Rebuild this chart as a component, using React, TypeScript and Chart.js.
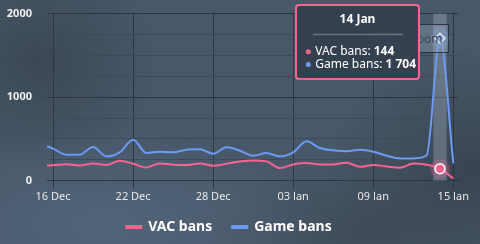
import React, { useEffect, useRef } from 'react';
import { Chart, registerables } from 'chart.js';

Chart.register(...registerables);

// ---- data ----
const dates = [
  '15 Dec', '16 Dec', '17 Dec', '18 Dec', '19 Dec', '20 Dec', '21 Dec', '22 Dec',
  '23 Dec', '24 Dec', '25 Dec', '26 Dec', '27 Dec', '28 Dec', '29 Dec', '30 Dec',
  '31 Dec', '01 Jan', '02 Jan', '03 Jan', '04 Jan', '05 Jan', '06 Jan', '07 Jan',
  '08 Jan', '09 Jan', '10 Jan', '11 Jan', '12 Jan', '13 Jan', '14 Jan', '15 Jan',
];
const vacBans = [
  178, 186, 198, 184, 206, 188, 240, 204, 160, 208, 192, 188, 208, 180, 204, 232,
  244, 232, 152, 196, 212, 196, 196, 216, 168, 188, 172, 156, 208, 192, 144, 28,
];
const gameBans = [
  440, 385, 312, 312, 405, 292, 340, 492, 332, 348, 340, 372, 376, 324, 400, 360,
  300, 332, 292, 340, 472, 392, 364, 352, 370, 348, 300, 268, 268, 305, 1704, 208,
];
const seriesNames = ['VAC bans', 'Game bans'];
const xTickIndexes = [1, 7, 13, 19, 25, 31];
const yMajorStep = 1000;
const yMinorStep = 250;
const hoverIndex = 30;
const resetLabel = 'Reset zoom';

// ---- styles ----
const PINK = '#f7648f';
const BLUE = '#6b9bf2';
const GRID_MAJOR = '#2b3642';
const GRID_MINOR = '#3d4a59';
const FONT = "'Noto Sans', 'Open Sans', sans-serif";

const fmt = (v: number) => String(v).replace(/\B(?=(\d{3})+(?!\d))/g, ' ');

function rgba(hex: string, a: number) {
  const n = parseInt(hex.slice(1), 16);
  return `rgba(${(n >> 16) & 255},${(n >> 8) & 255},${n & 255},${a})`;
}

const overlayPlugin = {
  id: 'overlay',
  beforeDatasetsDraw(chart: any) {
    const { ctx, chartArea, scales } = chart;
    const x = scales.x;
    const px = x.getPixelForValue(hoverIndex);
    const w = x.getPixelForValue(hoverIndex + 0.5) - x.getPixelForValue(hoverIndex - 0.5);
    ctx.save();
    ctx.fillStyle = 'rgba(205,215,230,0.26)';
    ctx.fillRect(px - w / 2, chartArea.top, w, chartArea.bottom - chartArea.top);
    chart.data.datasets.forEach((ds: any, i: number) => {
      const el = chart.getDatasetMeta(i).data[hoverIndex];
      ctx.beginPath();
      ctx.arc(el.x, el.y, 10, 0, Math.PI * 2);
      ctx.fillStyle = rgba(ds.borderColor, 0.25);
      ctx.fill();
    });
    ctx.restore();
  },
  afterDatasetsDraw(chart: any) {
    const { ctx, chartArea, scales } = chart;
    ctx.save();
    // reset zoom button
    const bw = 79, bh = 29;
    const rx = chartArea.right - 9 - bw;
    const ry = chartArea.top + 10.5;
    ctx.fillStyle = 'rgba(160,175,190,0.32)';
    ctx.fillRect(rx, ry, bw, bh);
    ctx.strokeStyle = '#2a3440';
    ctx.lineWidth = 1;
    ctx.strokeRect(rx + 0.5, ry + 0.5, bw - 1, bh - 1);
    ctx.fillStyle = '#3a4655';
    ctx.font = `12px ${FONT}`;
    ctx.textBaseline = 'middle';
    ctx.textAlign = 'left';
    ctx.fillText(resetLabel, rx + 7, ry + bh / 2 + 1);

    // tooltip
    const px = scales.x.getPixelForValue(hoverIndex);
    const tw = 123, th = 74;
    const tx = px - 21 - tw;
    const ty = chartArea.top - 8.5;
    ctx.beginPath();
    ctx.roundRect(tx, ty, tw, th, 3);
    ctx.fillStyle = 'rgba(52,63,77,0.96)';
    ctx.fill();
    ctx.strokeStyle = PINK;
    ctx.lineWidth = 2;
    ctx.stroke();

    ctx.fillStyle = '#ffffff';
    ctx.font = `bold 12px ${FONT}`;
    ctx.textAlign = 'center';
    ctx.fillText(dates[hoverIndex], tx + tw / 2, ty + 15);

    ctx.beginPath();
    ctx.moveTo(tx + 17, ty + 29.5);
    ctx.lineTo(tx + 107, ty + 29.5);
    ctx.strokeStyle = '#66737f';
    ctx.lineWidth = 1.5;
    ctx.stroke();

    const rows: [string, number, string][] = [
      [seriesNames[0], vacBans[hoverIndex], PINK],
      [seriesNames[1], gameBans[hoverIndex], BLUE],
    ];
    ctx.textAlign = 'left';
    rows.forEach(([name, val, color], r) => {
      const cy = ty + 46.7 + r * 12.7;
      ctx.beginPath();
      ctx.arc(tx + 12.3, cy, 2.5, 0, Math.PI * 2);
      ctx.fillStyle = color;
      ctx.fill();
      ctx.fillStyle = '#ffffff';
      ctx.font = `12px ${FONT}`;
      const label = name + ': ';
      ctx.fillText(label, tx + 19.3, cy);
      const w1 = ctx.measureText(label).width;
      ctx.font = `bold 12px ${FONT}`;
      ctx.fillText(fmt(val), tx + 19.3 + w1, cy);
    });
    ctx.restore();
  },
};

export default function App() {
  const canvasRef = useRef<HTMLCanvasElement | null>(null);

  useEffect(() => {
    const canvas = canvasRef.current;
    if (!canvas) return;
    const pointR = (ctx: any) => (ctx.dataIndex === hoverIndex ? 5 : 0);
    const chart = new Chart(canvas, {
      type: 'line',
      data: {
        datasets: [
          {
            label: seriesNames[0],
            data: vacBans.map((v, i) => ({ x: i, y: v })),
            borderColor: PINK,
            backgroundColor: PINK,
            borderWidth: 2,
            pointRadius: pointR,
            pointBackgroundColor: PINK,
            pointBorderColor: '#ffffff',
            pointBorderWidth: 1.5,
            cubicInterpolationMode: 'monotone',
            clip: 0,
          },
          {
            label: seriesNames[1],
            data: gameBans.map((v, i) => ({ x: i, y: v })),
            borderColor: BLUE,
            backgroundColor: BLUE,
            borderWidth: 2,
            pointRadius: pointR,
            pointStyle: 'rectRot',
            pointBackgroundColor: BLUE,
            pointBorderColor: '#ffffff',
            pointBorderWidth: 1.5,
            cubicInterpolationMode: 'monotone',
            clip: 0,
          },
        ],
      },
      options: {
        responsive: false,
        animation: false,
        events: [],
        layout: { padding: { top: 13.5, right: 22, left: 0, bottom: 0 } },
        scales: {
          x: {
            type: 'linear',
            min: 0.55,
            max: 31.35,
            afterBuildTicks: (scale: any) => {
              scale.ticks = xTickIndexes.map((value) => ({ value }));
            },
            afterFit: (scale: any) => {
              scale.height = scale.height - 4;
            },
            ticks: {
              autoSkip: false,
              maxRotation: 0,
              padding: 1,
              color: '#e8e8e8',
              font: { family: FONT, size: 11 },
              callback: (v: any) => dates[Number(v)] ?? '',
            },
            grid: { color: GRID_MAJOR, tickLength: 8, drawTicks: true },
            border: { display: true, color: GRID_MAJOR },
          },
          y: {
            min: 0,
            max: 2000,
            afterFit: (scale: any) => {
              scale.width = 47;
              scale.paddingTop = 0;
              scale.paddingBottom = 0;
            },
            ticks: {
              stepSize: yMinorStep,
              padding: 15,
              color: '#eeeeee',
              font: { family: FONT, size: 11, weight: 'bold' },
              callback: (v: any) => (Number(v) % yMajorStep === 0 ? String(v) : ''),
            },
            grid: {
              drawTicks: false,
              color: (ctx: any) =>
                ctx.tick && ctx.tick.value % yMajorStep === 0 ? GRID_MAJOR : GRID_MINOR,
            },
            border: { display: false },
          },
        },
        plugins: {
          tooltip: { enabled: false },
          legend: {
            position: 'bottom',
            labels: {
              boxWidth: 15,
              boxHeight: 2,
              padding: 20,
              color: '#ffffff',
              font: { family: FONT, size: 14, weight: 'bold' },
            },
          },
        },
      } as any,
      plugins: [overlayPlugin],
    });
    return () => chart.destroy();
  }, []);

  return (
    <div
      style={{
        position: 'fixed',
        left: 0,
        top: 0,
        width: 480,
        height: 244,
        background:
          'radial-gradient(ellipse 45% 40% at 22% 92%, #52647a 0%, rgba(82,100,122,0) 100%),' +
          'radial-gradient(ellipse 25% 45% at 8% 25%, #3b4755 0%, rgba(59,71,85,0) 100%),' +
          'radial-gradient(ellipse 30% 50% at 98% 70%, #394451 0%, rgba(57,68,81,0) 100%),' +
          'radial-gradient(ellipse 30% 30% at 75% 95%, #3f4b59 0%, rgba(63,75,89,0) 100%),' +
          '#485869',
      }}
    >
      <canvas ref={canvasRef} width={480} height={244} style={{ display: 'block' }} />
    </div>
  );
}
